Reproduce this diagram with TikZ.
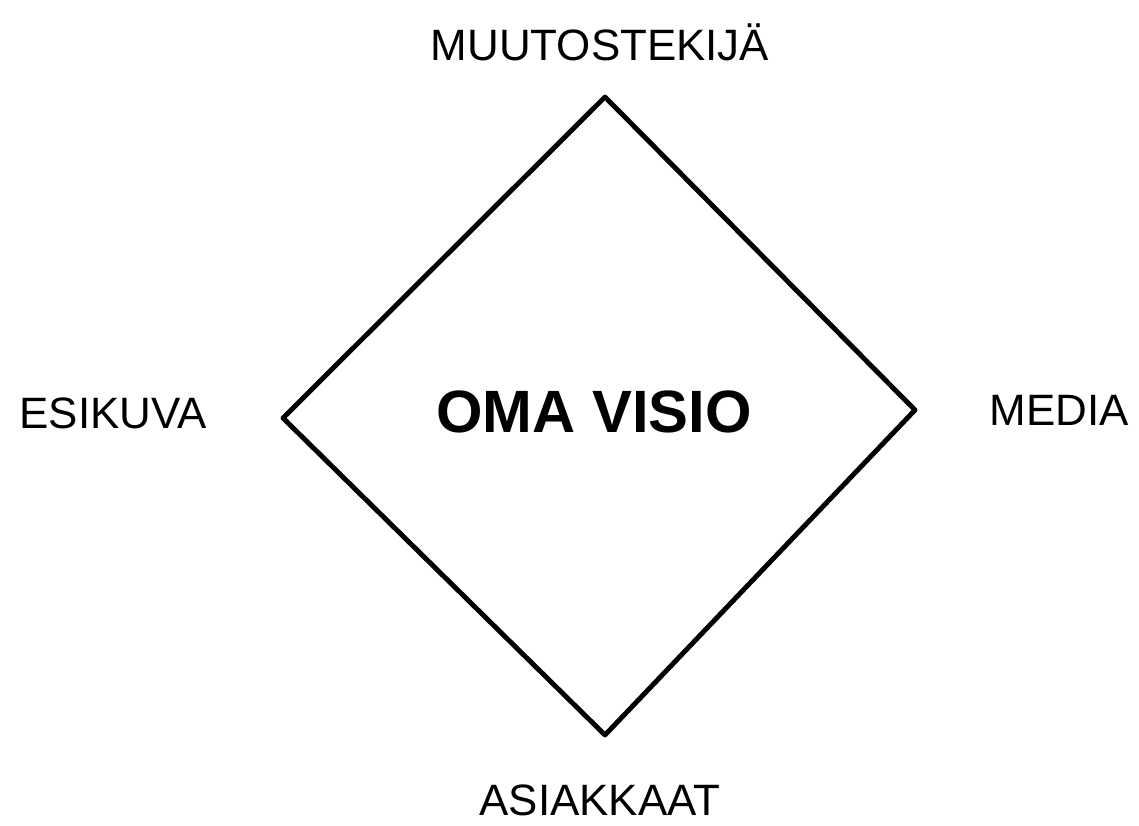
\documentclass[tikz,border=0pt]{standalone}
\usepackage{fontspec}
\setmainfont{Liberation Sans}
\usepackage{tikz}
\usetikzlibrary{positioning, calc}

\begin{document}
\begin{tikzpicture}[x=0.02cm, y=-0.02cm,
    label/.style={font=\fontsize{25}{28}\selectfont},
    title/.style={font=\fontsize{34}{38}\selectfont\bfseries}]
    % Frame of the picture
    \useasboundingbox (0,0) rectangle (1139,825);

    % Corners of the diamond
    \coordinate (top) at (605,97);
    \coordinate (right) at (915,410);
    \coordinate (bottom) at (605,735);
    \coordinate (left) at (283,418);

    \draw[line width=2.8pt, line join=round, line cap=round]
        (top) -- (right) -- (bottom) -- (left) -- cycle;

    % Labels
    \node[title] (visio) at (594,412) {OMA VISIO};
    \node[label] (muutos) at (600,42) {MUUTOSTEKIJÄ};
    \node[label] (esikuva) at (113,413) {ESIKUVA};
    \node[label] (media) at (1059,410) {MEDIA};
    \node[label] (asiakkaat) at (600,800) {ASIAKKAAT};
\end{tikzpicture}
\end{document}
